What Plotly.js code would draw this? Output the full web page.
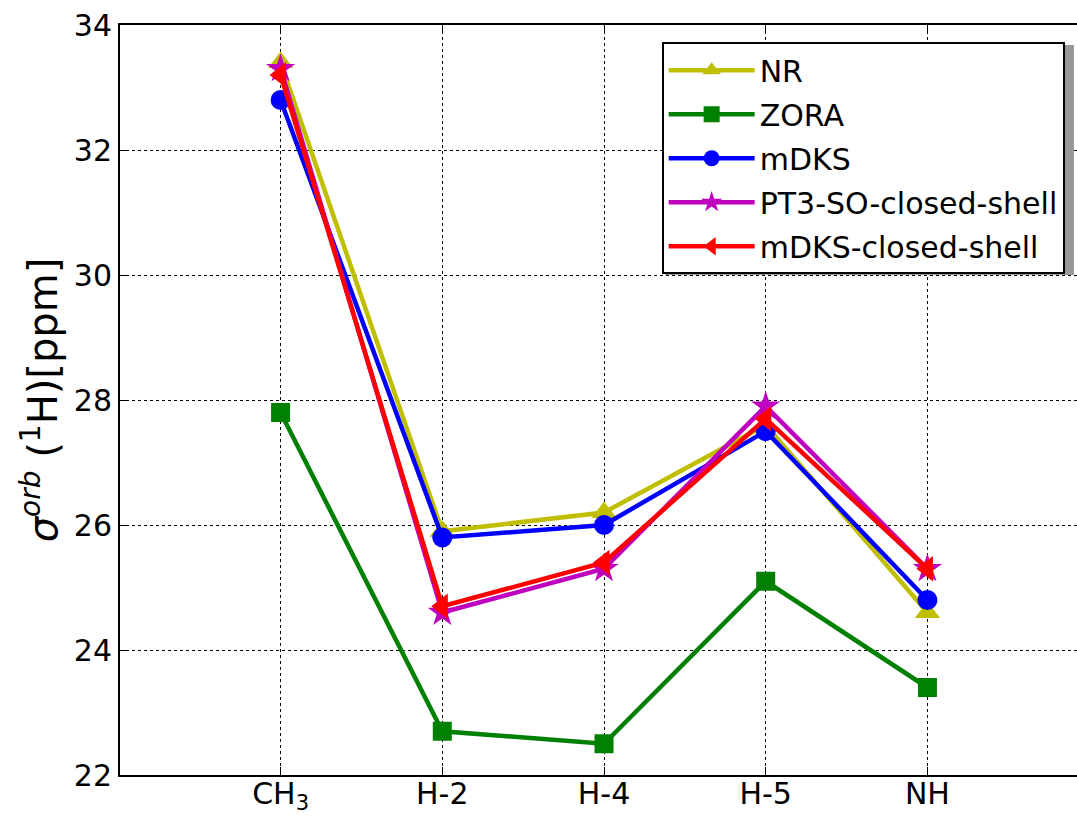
<!DOCTYPE html>
<html>
<head>
<meta charset="utf-8">
<script src="https://cdn.plot.ly/plotly-3.0.1.min.js"></script>
<style>html,body{margin:0;padding:0;background:#fff;}#chart{width:1077px;height:816px;}</style>
</head>
<body>
<div id="chart"></div>
<script>
const categories = ["CH<sub>3</sub>", "H-2", "H-4", "H-5", "NH"];
const seriesNames = ["NR", "ZORA", "mDKS", "PT3-SO-closed-shell", "mDKS-closed-shell"];
const NR = [33.4, 25.9, 26.2, 27.6, 24.6];
const ZORA = [27.8, 22.7, 22.5, 25.1, 23.4];
const mDKS = [32.8, 25.8, 26.0, 27.5, 24.8];
const PT3SO = [33.3, 24.6, 25.3, 27.9, 25.3];
const mDKSCS = [33.2, 24.7, 25.4, 27.7, 25.3];
const yTicks = [22, 24, 26, 28, 30, 32, 34];

const colors = ["#bfbf00", "#008000", "#0000ff", "#bf00bf", "#ff0000"];
const symbols = ["triangle-up", "square", "circle", "star", "triangle-left"];
const sizes = [22, 19, 20, 22, 22];
const data = [NR, ZORA, mDKS, PT3SO, mDKSCS];
const xIdx = categories.map((c, i) => i);

const traces = data.map((ys, k) => ({
  x: xIdx, y: ys, type: "scatter", mode: "lines+markers",
  name: seriesNames[k], legendgroup: "g" + k,
  line: {color: colors[k], width: 4.5},
  marker: {color: colors[k], symbol: symbols[k], size: sizes[k], line: {width: 0}}
}));

const layout = {
  width: 1077, height: 816,
  margin: {l: 120, r: 0, t: 25, b: 41},
  paper_bgcolor: "#fff", plot_bgcolor: "#fff",
  font: {family: "DejaVu Sans", color: "#000"},
  showlegend: true,
  legend: {
    x: 0.566, y: 0.977, xanchor: "left", yanchor: "top",
    bgcolor: "#fff", bordercolor: "#000", borderwidth: 2,
    font: {size: 30, family: "DejaVu Sans"},
    itemwidth: 86, tracegroupgap: 2
  },
  xaxis: {
    range: [-0.993, 4.925], tickvals: xIdx, ticktext: categories,
    showgrid: true, gridcolor: "#000", griddash: "dot", gridwidth: 1,
    showline: true, linecolor: "#000", linewidth: 2, mirror: "ticks",
    ticks: "inside", ticklen: 8, tickcolor: "#000", tickwidth: 1,
    tickfont: {size: 30}, zeroline: false, ticklabelstandoff: -9
  },
  yaxis: {
    range: [22, 34], tickvals: yTicks,
    showgrid: true, gridcolor: "#000", griddash: "dot", gridwidth: 1,
    showline: true, linecolor: "#000", linewidth: 2,
    ticks: "inside", ticklen: 8, tickcolor: "#000", tickwidth: 1,
    tickfont: {size: 30}, zeroline: false,
    title: {text: "<i>σ<sup>orb</sup></i> (<sup>1</sup>H)[ppm]", font: {size: 40}, standoff: 4}
  },
  shapes: [{
    type: "rect", xref: "paper", yref: "paper",
    x0: (665 - 120) / 957, x1: (1074 - 120) / 957,
    y0: 1 - (275 - 25) / 750, y1: 1 - (45 - 25) / 750,
    fillcolor: "#999", line: {width: 0}, layer: "above"
  }]
};

Plotly.newPlot("chart", traces, layout, {displayModeBar: false});
</script>
</body>
</html>
